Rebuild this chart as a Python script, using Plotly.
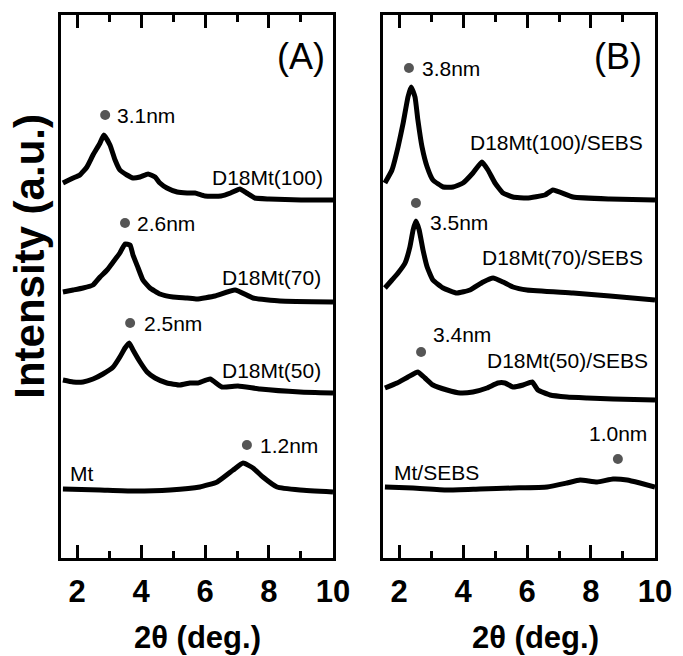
import plotly.graph_objects as go

# ---- XRD patterns, panel (A): organoclay powders (2-theta in deg, counts offset per trace) ----
a_d100_x = [1.56, 1.88, 2.09, 2.31, 2.5, 2.72, 2.84, 3.03, 3.19, 3.34, 3.56, 3.75, 3.97, 4.22, 4.44,
            4.59, 4.81, 5.13, 5.44, 5.69, 6.0, 6.5, 6.8, 7.09, 7.3, 7.56, 8.0, 9.0, 10.0]
a_d100_y = [375, 380, 383, 391, 403, 415, 423, 413, 398, 388, 383, 380, 381, 384, 381,
            375, 370, 366, 365, 365, 362, 362, 365, 369, 365, 360, 359, 358, 358]

a_d70_x = [1.56, 1.88, 2.19, 2.5, 2.72, 2.94, 3.13, 3.34, 3.5, 3.66, 3.75, 3.91, 4.06, 4.28, 4.59, 5.0,
           5.44, 5.75, 6.31, 6.94, 7.5, 8.34, 10.0]
a_d70_y = [266, 268, 270, 273, 281, 288, 296, 305, 314, 313, 303, 290, 278, 270, 264, 261,
           260, 259, 262, 268, 260, 257, 256]

a_d50_x = [1.56, 1.88, 2.19, 2.5, 2.81, 3.13, 3.34, 3.5, 3.63, 3.75, 3.97, 4.19, 4.44, 4.81, 5.22, 5.53,
           5.78, 6.16, 6.53, 7.03, 7.72, 8.97, 10.0]
a_d50_y = [178, 176, 176, 179, 184, 191, 201, 210, 215, 208, 196, 186, 180, 175, 173, 175,
           175, 179, 171, 172, 169, 166, 165]

a_mt_x = [1.56, 2.72, 3.75, 4.91, 5.84, 6.38, 6.88, 7.19, 7.5, 7.81, 8.25, 8.97, 10.0]
a_mt_y = [69, 68, 67, 68, 71, 76, 88, 95, 90, 81, 71, 68, 66]

# ---- panel (B): the same clays dispersed in SEBS ----
b_d100_x = [1.56, 1.78, 1.97, 2.13, 2.28, 2.38, 2.5, 2.59, 2.72, 2.88, 3.06, 3.38, 3.69, 4.0, 4.31, 4.59,
            4.78, 5.0, 5.25, 5.56, 6.0, 6.56, 6.81, 7.44, 8.59, 10.0]
b_d100_y = [375, 388, 411, 435, 461, 471, 461, 438, 411, 391, 378, 371, 371, 375, 385, 396,
            388, 375, 365, 361, 360, 363, 368, 361, 359, 358]

b_d70_x = [1.56, 1.78, 1.97, 2.19, 2.34, 2.44, 2.53, 2.63, 2.75, 2.88, 3.06, 3.38, 3.81, 4.22, 4.63, 4.94,
           5.25, 5.56, 6.0, 7.44, 8.59, 10.0]
b_d70_y = [270, 278, 285, 295, 311, 328, 337, 328, 308, 291, 278, 270, 265, 268, 276, 280,
           276, 271, 268, 265, 262, 258]

b_d50_x = [1.56, 1.94, 2.28, 2.59, 2.81, 3.06, 3.5, 3.91, 4.31, 4.75, 5.09, 5.31, 5.56, 5.88, 6.16, 6.34,
           6.72, 7.25, 7.88, 8.69, 10.0]
b_d50_y = [170, 175, 181, 186, 180, 173, 168, 165, 166, 170, 175, 175, 171, 173, 176, 168,
           163, 161, 160, 159, 158]

b_mt_x = [1.56, 2.44, 3.5, 4.53, 5.56, 6.63, 7.25, 7.66, 8.19, 8.69, 9.13, 9.53, 10.0]
b_mt_y = [71, 70, 68, 69, 70, 71, 75, 78, 76, 79, 78, 75, 71]

# basal-spacing markers: position (2-theta, counts) and d-spacing text
a_peak_x = [2.88, 3.5, 3.66, 7.31]
a_peak_y = [443, 335, 235, 113]
a_peak_text = ["3.1nm", "2.6nm", "2.5nm", "1.2nm"]

b_peak_x = [2.31, 2.53, 2.69, 8.84]
b_peak_y = [490, 355, 206, 99]
b_peak_text = ["3.8nm", "3.5nm", "3.4nm", "1.0nm"]

a_names = ["D18Mt(100)", "D18Mt(70)", "D18Mt(50)", "Mt"]
b_names = ["D18Mt(100)/SEBS", "D18Mt(70)/SEBS", "D18Mt(50)/SEBS", "Mt/SEBS"]

tick_vals = [2, 4, 6, 8, 10]
tick_text = ["2", "4", "6", "8", "10"]

FONT = "Liberation Sans, Arial, sans-serif"
LINE = dict(color="black", width=5, shape="spline", smoothing=0.4)

fig = go.Figure()

for xs, ys in [(a_d100_x, a_d100_y), (a_d70_x, a_d70_y), (a_d50_x, a_d50_y), (a_mt_x, a_mt_y)]:
    fig.add_trace(go.Scatter(x=xs, y=ys, mode="lines", line=LINE,
                             xaxis="x", yaxis="y", showlegend=False))
for xs, ys in [(b_d100_x, b_d100_y), (b_d70_x, b_d70_y), (b_d50_x, b_d50_y), (b_mt_x, b_mt_y)]:
    fig.add_trace(go.Scatter(x=xs, y=ys, mode="lines", line=LINE,
                             xaxis="x2", yaxis="y2", showlegend=False))

dot = dict(size=10, color="#555555", line=dict(width=0))
fig.add_trace(go.Scatter(x=a_peak_x, y=a_peak_y, mode="markers", marker=dot,
                         xaxis="x", yaxis="y", showlegend=False))
fig.add_trace(go.Scatter(x=b_peak_x, y=b_peak_y, mode="markers", marker=dot,
                         xaxis="x2", yaxis="y2", showlegend=False))

ann_font = dict(family=FONT, size=21, color="black")
annotations = []

# d-spacing labels next to the dots
a_offsets = [(10, 0, "left"), (10, 0, "left"), (12, 0, "left"), (11, 0, "left")]
for x, y, t, (dx, dy, anc) in zip(a_peak_x, a_peak_y, a_peak_text, a_offsets):
    annotations.append(dict(x=x, y=y, xref="x", yref="y", text=t, showarrow=False,
                            xanchor=anc, xshift=dx, yshift=dy, font=ann_font))
b_offsets = [(11, 0, "left"), (12, -19, "left"), (10, 18, "left"), (0, 26, "center")]
for x, y, t, (dx, dy, anc) in zip(b_peak_x, b_peak_y, b_peak_text, b_offsets):
    annotations.append(dict(x=x, y=y, xref="x2", yref="y2", text=t, showarrow=False,
                            xanchor=anc, xshift=dx, yshift=dy, font=ann_font))

# sample names
a_name_pos = [(9.75, 381, "right"), (9.69, 281, "right"), (9.69, 188, "right"), (1.72, 85, "left")]
for (x, y, anc), t in zip(a_name_pos, a_names):
    annotations.append(dict(x=x, y=y, xref="x", yref="y", text=t, showarrow=False,
                            xanchor=anc, font=ann_font))
b_name_pos = [(9.69, 416, "right"), (9.69, 301, "right"), (9.84, 198, "right"), (1.78, 86, "left")]
for (x, y, anc), t in zip(b_name_pos, b_names):
    annotations.append(dict(x=x, y=y, xref="x2", yref="y2", text=t, showarrow=False,
                            xanchor=anc, font=ann_font))

# panel letters
annotations.append(dict(x=9.0, y=502, xref="x", yref="y", text="(A)", showarrow=False,
                        font=dict(family=FONT, size=36, color="black")))
annotations.append(dict(x=8.85, y=502, xref="x2", yref="y2", text="(B)", showarrow=False,
                        font=dict(family=FONT, size=36, color="black")))

# axis titles
title_font = dict(family=FONT, size=31, color="black")
annotations.append(dict(x=0.230, y=-0.147, xref="paper", yref="paper", text="<b>2\u03b8 (deg.)</b>",
                        showarrow=False, font=title_font, xanchor="center", yanchor="middle"))
annotations.append(dict(x=0.798, y=-0.147, xref="paper", yref="paper", text="<b>2\u03b8 (deg.)</b>",
                        showarrow=False, font=title_font, xanchor="center", yanchor="middle"))
annotations.append(dict(x=-0.052, y=0.555, xref="paper", yref="paper", text="<b>Intensity (a.u.)</b>",
                        showarrow=False, textangle=-90, font=dict(family=FONT, size=42, color="black"),
                        xanchor="center", yanchor="middle"))

xaxis_common = dict(range=[1.5, 10], tickvals=tick_vals, ticktext=tick_text,
                    ticks="inside", ticklen=13, tickwidth=3, tickcolor="black",
                    minor=dict(tickvals=[3, 5, 7, 9], ticks="inside", ticklen=7, tickwidth=3,
                               tickcolor="black", showgrid=False),
                    showline=True, linewidth=3, linecolor="black", mirror="ticks",
                    showgrid=False, zeroline=False,
                    tickfont=dict(family=FONT, size=31, color="black", weight="bold"),
                    ticklabelstandoff=4)
yaxis_common = dict(range=[0, 543], showticklabels=False, ticks="", showgrid=False, zeroline=False,
                    showline=True, linewidth=3, linecolor="black", mirror=True)

fig.update_layout(
    width=683, height=656,
    margin=dict(l=61, r=28, t=15, b=98),
    paper_bgcolor="white", plot_bgcolor="white",
    xaxis=dict(xaxis_common, domain=[0, 0.4579], anchor="y"),
    xaxis2=dict(xaxis_common, domain=[0.5421, 1], anchor="y2"),
    yaxis=dict(yaxis_common, domain=[0, 1], anchor="x"),
    yaxis2=dict(yaxis_common, domain=[0, 1], anchor="x2"),
    annotations=annotations,
    showlegend=False,
)

fig.write_html("out.html")
